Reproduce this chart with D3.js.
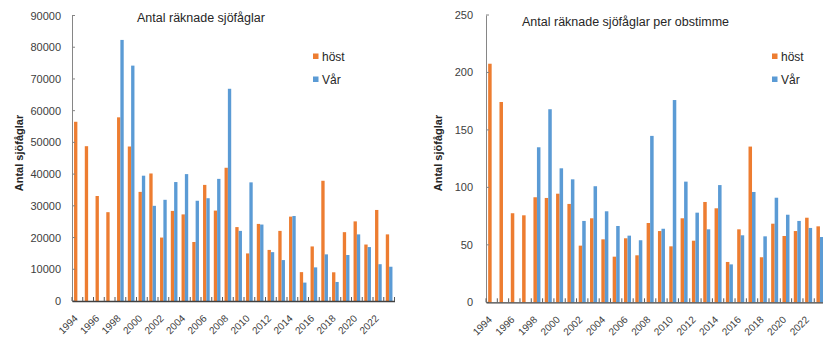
<!DOCTYPE html>
<html><head><meta charset="utf-8">
<script src="https://cdn.jsdelivr.net/npm/d3@7"></script>
<style>body{margin:0;background:#fff}svg{display:block}text{font-family:"Liberation Sans",Arial,sans-serif}</style>
</head><body>
<svg id="c" width="823" height="340"></svg>
<script>
const years = d3.range(1994, 2024).map(String);
const xTickLabels = ["1994","1996","1998","2000","2002","2004","2006","2008","2010","2012","2014","2016","2018","2020","2022"];
const seriesNames = ["höst","Vår"];
const colors = ["#ED7D31","#5B9BD5"];

// Antal räknade sjöfåglar
const countHost = [56500,48800,33100,28000,57900,48700,34400,40200,20000,28400,27300,18600,36600,28500,42000,23300,15000,24300,16100,22100,26600,9100,17200,37900,9050,21700,25100,17800,28700,21000];
const countVar  = [null,null,null,null,82300,74200,39500,30000,31900,37500,40000,31600,32400,38500,66900,22100,37400,24100,15400,12900,26800,5800,10600,14700,6000,14500,21000,17000,11600,10800];
const countTicks = [0,10000,20000,30000,40000,50000,60000,70000,80000,90000];

// Antal räknade sjöfåglar per obstimme
const rateHost = [207.6,174.3,77.5,75.7,91.4,90.8,94.5,85.6,49.3,73.1,54.8,39.7,55.7,40.9,69,62,48.7,73.1,53.6,87.3,81.8,35.1,63.5,135.5,39.2,68.4,57.7,62,73.6,66.1];
const rateVar  = [null,null,null,null,134.9,168,116.6,107,70.8,101,79.2,66.4,58,54,144.8,64,176,105,78,63.5,102,33,58.3,96,57.4,91,76.2,70.8,64.7,56.8];
const rateTicks = [0,50,100,150,200,250];

const svg = d3.select("#c");

function drawChart(cfg){
  const g = svg.append("g");
  const x = d3.scaleBand().domain(years).range([cfg.x0, cfg.x1]).paddingInner(0.38).paddingOuter(0.19);
  const xs = d3.scaleBand().domain(seriesNames).range([0, x.bandwidth()]);
  const y = d3.scaleLinear().domain([0, cfg.max]).range([cfg.yBase, cfg.yTop]);
  const step = (cfg.x1 - cfg.x0) / years.length;

  // bars
  [cfg.host, cfg.var].forEach((vals, si) => {
    g.append("g").selectAll("rect").data(years.map((yr,i)=>({yr, v: vals[i]})).filter(d=>d.v!=null))
      .join("rect")
      .attr("x", d => x(d.yr) + xs(seriesNames[si]))
      .attr("width", xs.bandwidth())
      .attr("y", d => y(d.v))
      .attr("height", d => cfg.yBase - y(d.v))
      .attr("fill", colors[si]);
  });

  // y axis
  const ya = d3.axisLeft(y).tickValues(cfg.ticks).tickSize(0).tickPadding(cfg.tickPad).tickFormat(d3.format("d"));
  const yg = g.append("g").attr("transform", `translate(${cfg.x0},0)`).call(ya);
  yg.select(".domain").attr("stroke", "#868686").attr("stroke-width", 1);
  yg.selectAll("text").attr("font-size", 11).attr("fill", "#404040");
  // inside tick marks on y axis
  g.append("g").selectAll("line").data(cfg.ticks).join("line")
    .attr("x1", cfg.x0).attr("x2", cfg.x0 + 3)
    .attr("y1", d => y(d)).attr("y2", d => y(d))
    .attr("stroke", "#868686").attr("stroke-width", 1);

  // x axis
  const xa = d3.axisBottom(x).tickValues([]).tickSize(0);
  const xg = g.append("g").attr("transform", `translate(0,${cfg.yBase})`).call(xa);
  xg.select(".domain").attr("stroke", "#404040").attr("stroke-width", 1.3);
  // category boundary tick marks (inside)
  g.append("g").selectAll("line").data(d3.range(years.length + 1)).join("line")
    .attr("x1", i => cfg.x0 + i * step).attr("x2", i => cfg.x0 + i * step)
    .attr("y1", cfg.yBase).attr("y2", cfg.yBase - 4)
    .attr("stroke", "#595959").attr("stroke-width", 1);
  g.append("g").selectAll("text").data(xTickLabels).join("text")
    .attr("transform", d => `translate(${x(d) + x.bandwidth()/2 + 1},${cfg.yBase + 18}) rotate(-45)`)
    .attr("text-anchor", "end").attr("font-size", 10).attr("fill", "#404040")
    .text(d => d);

  // title
  g.append("text").attr("x", cfg.titleX).attr("y", cfg.titleY)
    .attr("font-size", 12.5).attr("fill", "#262626").text(cfg.title);

  // y label
  g.append("text").attr("transform", `translate(${cfg.ylabX},${cfg.ylabY}) rotate(-90)`)
    .attr("text-anchor", "middle").attr("font-size", 11).attr("font-weight", "bold")
    .attr("fill", "#262626").text("Antal sjöfåglar");

  // legend
  seriesNames.forEach((n, i) => {
    const ly = cfg.legY + i * 23;
    g.append("rect").attr("x", cfg.legX).attr("y", ly).attr("width", 5.5).attr("height", 5.5).attr("fill", colors[i]);
    g.append("text").attr("x", cfg.legX + 9).attr("y", ly + 7).attr("font-size", 12).attr("fill", "#262626").text(n);
  });
}

drawChart({x0:72, x1:394.5, yTop:15.5, yBase:301, max:90000, ticks:countTicks, tickPad:11,
  host:countHost, var:countVar, title:"Antal räknade sjöfåglar", titleX:137, titleY:21.5,
  ylabX:23, ylabY:153, legX:313, legY:53.5});
drawChart({x0:486, x1:825.6, yTop:15, yBase:302.3, max:250, ticks:rateTicks, tickPad:13,
  host:rateHost, var:rateVar, title:"Antal räknade sjöfåglar per obstimme", titleX:522, titleY:25.5,
  ylabX:442, ylabY:153, legX:772, legY:53.5});
</script>
</body></html>
